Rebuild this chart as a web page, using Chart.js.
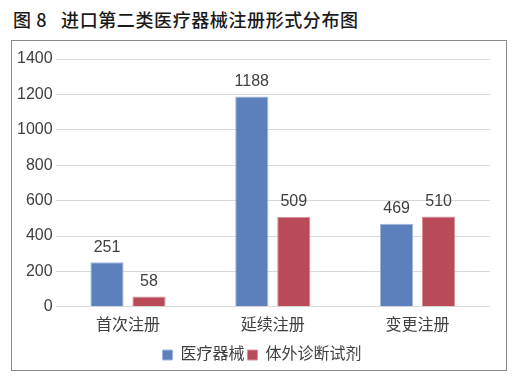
<!DOCTYPE html>
<html>
<head>
<meta charset="utf-8">
<script src="https://cdn.jsdelivr.net/npm/chart.js@4"></script>
<style>
  body { margin: 0; background: #fff; width: 515px; height: 379px; position: relative; overflow: hidden; }
  #title { position: absolute; left: 13px; top: 6px; font: 500 18px "Noto Sans CJK SC", "Liberation Sans", sans-serif; color: #1a1a1a; letter-spacing: 0.6px; }
  #box { position: absolute; left: 11px; top: 40px; width: 494px; height: 329px; border: 1px solid #8a8a8a; }
  #c { display: block; }
</style>
</head>
<body>
<div id="title">图 8&nbsp;&nbsp;&nbsp;进口第二类医疗器械注册形式分布图</div>
<div id="box"><canvas id="c" width="494" height="329"></canvas></div>
<script>
const categories = ['首次注册', '延续注册', '变更注册']
const seriesNames = ['医疗器械', '体外诊断试剂']
const devices = [251, 1188, 469]
const ivd = [58, 509, 510]
const yTicks = [0, 200, 400, 600, 800, 1000, 1200, 1400]

const fontFamily = '"Liberation Sans", "Noto Sans CJK SC", sans-serif'

const valueLabels = {
  id: 'valueLabels',
  afterDatasetsDraw(chart) {
    const ctx = chart.ctx
    ctx.save()
    ctx.font = '16px ' + fontFamily
    ctx.fillStyle = '#404040'
    ctx.textAlign = 'center'
    ctx.textBaseline = 'bottom'
    chart.data.datasets.forEach((ds, i) => {
      chart.getDatasetMeta(i).data.forEach((bar, j) => {
        ctx.fillText(ds.data[j], bar.x, bar.y - 7)
      })
    })
    ctx.restore()
  }
}

// nudge the legend so it sits under the plot area like the original
const legendShift = {
  id: 'legendShift',
  afterLayout(chart) {
    chart.legend.left += 10
    chart.legend.right += 10
    chart.legend.top += 3
    chart.legend.bottom += 3
  }
}

new Chart(document.getElementById('c'), {
  type: 'bar',
  data: {
    labels: categories,
    datasets: [
      { label: seriesNames[0], data: devices, backgroundColor: '#5b80bc', borderColor: '#9fb6dc', borderWidth: 1 },
      { label: seriesNames[1], data: ivd, backgroundColor: '#b94a5a', borderColor: '#d98f99', borderWidth: 1 }
    ]
  },
  options: {
    responsive: false,
    animation: false,
    layout: { padding: { left: 2, right: 16, top: 18, bottom: 0 } },
    categoryPercentage: 0.58,
    barPercentage: 0.79,
    scales: {
      x: {
        grid: { display: false },
        border: { display: false },
        afterFit(axis) { axis.height += 5 },
        ticks: { color: '#404040', font: { size: 16, family: fontFamily }, padding: 1 }
      },
      y: {
        min: 0,
        max: 1400,
        afterBuildTicks(axis) { axis.ticks = yTicks.map(v => ({ value: v })) },
        grid: { color: '#d9d9d9', drawTicks: false },
        border: { display: false },
        ticks: { color: '#404040', font: { size: 16, family: fontFamily }, padding: 3, callback: v => String(v) }
      }
    },
    plugins: {
      legend: {
        position: 'bottom',
        labels: { boxWidth: 10, boxHeight: 10, padding: 3, color: '#404040', font: { size: 16, family: fontFamily } }
      },
      tooltip: { enabled: false }
    }
  },
  plugins: [valueLabels, legendShift]
})
</script>
</body>
</html>
